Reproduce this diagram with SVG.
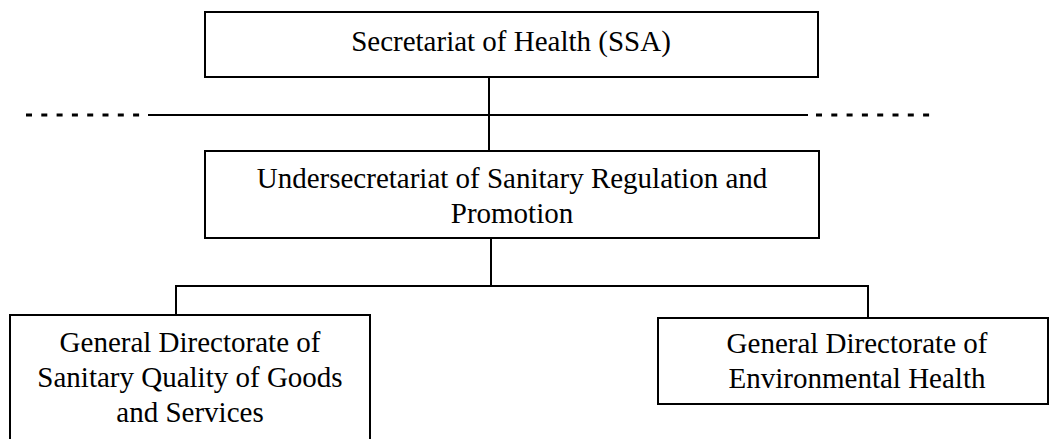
<svg xmlns="http://www.w3.org/2000/svg" width="1050" height="439" viewBox="0 0 1050 439">
<style>
.box{fill:#fff;stroke:#000;stroke-width:2}
.t{font-family:"Liberation Serif","Times New Roman",serif;font-size:29px;fill:#000;text-anchor:middle}
.ln{stroke:#000;stroke-width:2;fill:none}
.dash{stroke:#000;stroke-width:3;fill:none;stroke-dasharray:6 9.3}
</style>
<rect width="1050" height="439" fill="#fff"/>
<g id="connectors">
<line class="dash" x1="26" y1="115" x2="148" y2="115"/>
<line class="ln" x1="148" y1="115" x2="808" y2="115"/>
<line class="dash" x1="816" y1="115" x2="931" y2="115"/>
<line class="ln" x1="489" y1="78" x2="489" y2="151"/>
<line class="ln" x1="491" y1="238" x2="491" y2="287"/>
<line class="ln" x1="176" y1="286" x2="868" y2="286"/>
<line class="ln" x1="176" y1="285" x2="176" y2="315"/>
<line class="ln" x1="868" y1="285" x2="868" y2="318"/>
</g>
<g id="ssa">
<rect class="box" x="205" y="12" width="613" height="65"/>
<text class="t" x="511" y="51">Secretariat of Health (SSA)</text>
</g>
<g id="undersecretariat">
<rect class="box" x="205" y="151" width="614" height="87"/>
<text class="t" x="512" y="188">Undersecretariat of Sanitary Regulation and</text>
<text class="t" x="512" y="223">Promotion</text>
</g>
<g id="dg-goods">
<rect class="box" x="10" y="315" width="360" height="140"/>
<text class="t" x="190" y="352">General Directorate of</text>
<text class="t" x="190" y="387">Sanitary Quality of Goods</text>
<text class="t" x="190" y="422">and Services</text>
</g>
<g id="dg-env">
<rect class="box" x="658" y="318" width="390" height="86"/>
<text class="t" x="857" y="353">General Directorate of</text>
<text class="t" x="857" y="388">Environmental Health</text>
</g>
</svg>
